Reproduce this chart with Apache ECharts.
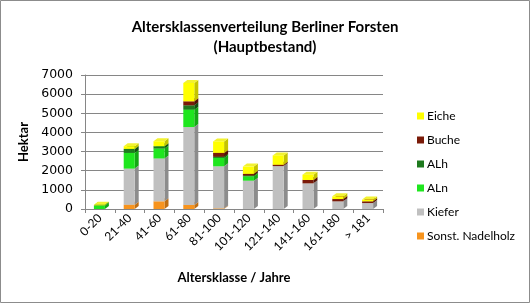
<!DOCTYPE html>
<html><head><meta charset="utf-8">
<script src="https://cdn.jsdelivr.net/npm/echarts@6/dist/echarts.min.js"></script>
<style>html,body{margin:0;padding:0;background:#fff}#c{width:530px;height:303px}</style>
</head><body><div id="c"></div>
<script>
const categories = ['0-20','21-40','41-60','61-80','81-100','101-120','121-140','141-160','161-180','> 181'];
const sonstNadelholz = [0, 220, 400, 210, 30, 0, 0, 0, 0, 0];
const kiefer = [0, 1890, 2240, 4070, 2200, 1480, 2240, 1340, 400, 310];
const aln = [170, 820, 520, 910, 440, 225, 0, 0, 0, 0];
const alh = [20, 210, 120, 225, 60, 40, 0, 0, 0, 0];
const buche = [0, 0, 0, 210, 200, 90, 70, 175, 120, 90];
const eiche = [30, 140, 260, 960, 600, 380, 490, 280, 140, 90];
const yTicks = [0, 1000, 2000, 3000, 4000, 5000, 6000, 7000];

const seriesDefs = [
  {name: 'Sonst. Nadelholz', data: sonstNadelholz, front: '#F7941E', side: '#C06F12', top: '#FAAE55'},
  {name: 'Kiefer', data: kiefer, front: '#C0C0C0', side: '#8C8C8C', top: '#D4D4D4'},
  {name: 'ALn', data: aln, front: '#1EE61E', side: '#14A814', top: '#4CF04C'},
  {name: 'ALh', data: alh, front: '#1E7A1E', side: '#135013', top: '#2E962E'},
  {name: 'Buche', data: buche, front: '#7A1A08', side: '#521004', top: '#962A14'},
  {name: 'Eiche', data: eiche, front: '#FFFF00', side: '#C4C400', top: '#F2F230'}
];

const cum = categories.map(() => 0);
const series = seriesDefs.map((s, si) => {
  const rows = s.data.map((v, i) => {
    const b = cum[i];
    cum[i] += v;
    return [i, b, cum[i]];
  });
  return {
    name: s.name,
    type: 'custom',
    z: 2 + si,
    itemStyle: {color: s.front},
    encode: {x: 0, y: [1, 2]},
    data: rows,
    renderItem: function (params, api) {
      const x = api.value(0), b = api.value(1), t = api.value(2);
      if (t - b <= 0) return null;
      const p0 = api.coord([x, b]);
      const p1 = api.coord([x, t]);
      const w = 11, d = 4, dy = 3;
      const l = p0[0] - 6;
      const yb = p0[1], yt = p1[1];
      return {
        type: 'group',
        children: [
          {type: 'polygon', shape: {points: [[l + w, yt], [l + w + d, yt - dy], [l + w + d, yb - dy], [l + w, yb]]}, style: {fill: s.side}},
          {type: 'polygon', shape: {points: [[l, yt], [l + d, yt - dy], [l + w + d, yt - dy], [l + w, yt]]}, style: {fill: s.top}},
          {type: 'rect', shape: {x: l, y: yt, width: w, height: yb - yt}, style: {fill: s.front}}
        ]
      };
    }
  };
});

const chart = echarts.init(document.getElementById('c'), null, {renderer: 'canvas'});
chart.setOption({
  animation: false,
  backgroundColor: '#fff',
  title: {
    text: 'Altersklassenverteilung Berliner Forsten\n(Hauptbestand)',
    left: 'center', top: 12,
    textStyle: {fontFamily: 'Lato', fontWeight: 'bold', fontSize: 15, lineHeight: 20, color: '#000'}
  },
  legend: {
    orient: 'vertical', left: 412, top: 105,
    itemWidth: 7, itemHeight: 7, itemGap: 12, icon: 'rect',
    data: ['Eiche', 'Buche', 'ALh', 'ALn', 'Kiefer', 'Sonst. Nadelholz'],
    textStyle: {fontFamily: 'Lato', fontSize: 12, lineHeight: 12, color: '#000', padding: [0, 0, 0, -2]}
  },
  grid: {left: 85, right: 147, top: 75, bottom: 94},
  xAxis: {
    type: 'category', data: categories,
    name: 'Altersklasse / Jahre', nameLocation: 'middle', nameGap: 62,
    nameTextStyle: {fontFamily: 'Lato', fontWeight: 'bold', fontSize: 13, color: '#000'},
    axisLine: {lineStyle: {color: '#868686'}},
    axisTick: {show: true, length: 4, lineStyle: {color: '#868686'}},
    axisLabel: {rotate: 45, margin: 7, fontFamily: 'Lato', fontSize: 12, color: '#000', interval: 0}
  },
  yAxis: {
    type: 'value', min: 0, max: 7000, interval: 1000,
    name: 'Hektar', nameLocation: 'middle', nameGap: 48, nameRotate: 90,
    nameTextStyle: {fontFamily: 'Lato', fontWeight: 'bold', fontSize: 13, color: '#000'},
    axisLine: {show: true, lineStyle: {color: '#868686'}},
    axisTick: {show: true, length: 4, lineStyle: {color: '#868686'}},
    axisLabel: {margin: 12, fontFamily: 'DejaVu Sans', fontSize: 12.5, color: '#000',
      formatter: v => yTicks.includes(v) ? String(v) : ''},
    splitLine: {lineStyle: {color: '#868686'}}
  },
  graphic: [{type: 'rect', shape: {x: 0.5, y: 0.5, width: 529, height: 302}, style: {fill: null, stroke: '#8c8c8c', lineWidth: 1}, silent: true}],
  series: series
});
</script></body></html>
